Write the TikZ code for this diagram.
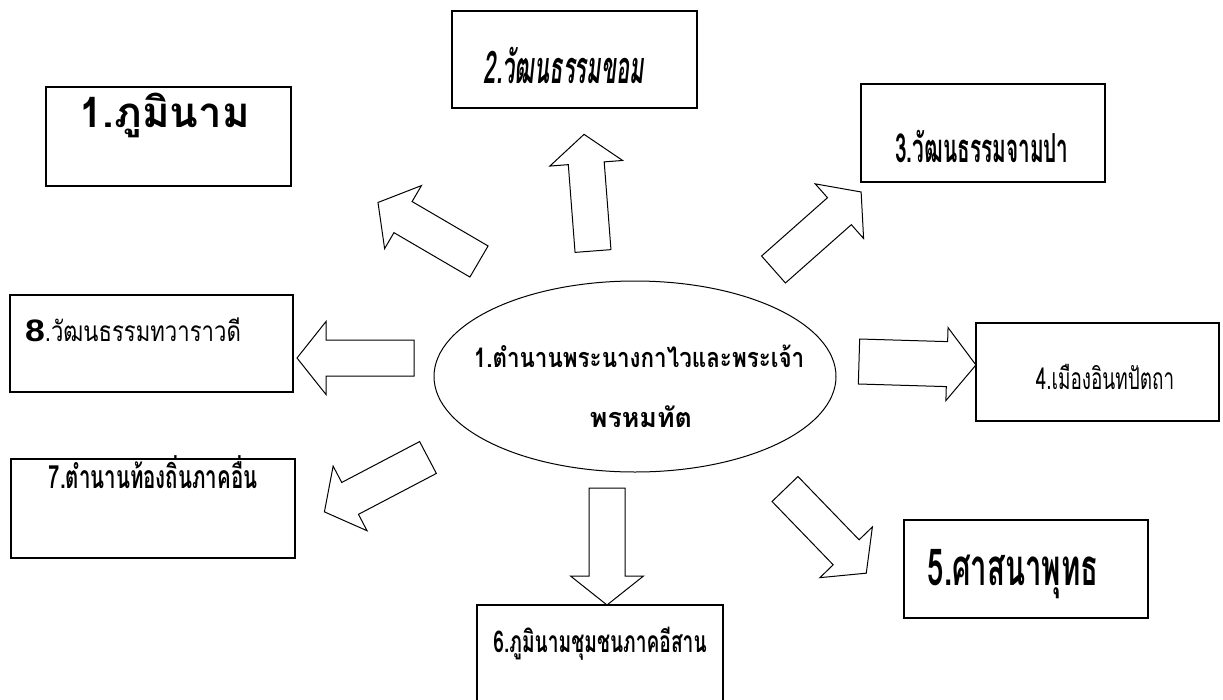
\documentclass[tikz,border=0pt]{standalone}
\usepackage{fontspec}
\usepackage{graphicx}
\usetikzlibrary{shapes.geometric}
\newfontfamily\thaifont[Script=Thai]{Loma}
\newfontfamily\latinbold{Liberation Sans}
\newcommand\thsize[1]{\fontsize{#1}{#1}\selectfont}
\newcommand\sq[2]{\scalebox{#1}[1]{#2}}

\tikzset{
  box/.style={draw, line width=1.6pt, inner sep=0pt},
  ttl/.style={anchor=base, inner sep=0pt},
  blockarr/.pic={
    \draw[line width=1pt, fill=white] (0,-#1) -- (88,-#1) -- (88,-36.5) -- (117,0)
      -- (88,36.5) -- (88,#1) -- (0,#1) -- cycle;
  }
}

\begin{document}
\begin{tikzpicture}[x=1pt,y=1pt]
  \useasboundingbox (0,0) rectangle (1223,-699);

  % centre
  \node[draw, ellipse, line width=1pt, minimum width=402, minimum height=191, inner sep=0pt] (core) at (635,-376.5) {};
  \node[ttl, font={\thaifont\bfseries\thsize{27}}] (coreA) at (639,-367) {\sq{0.83}{1.ตำนานพระนางกาไวและพระเจ้า}};
  \node[ttl, font={\thaifont\bfseries\thsize{27}}] (coreB) at (641,-427) {\sq{0.99}{พรหมทัต}};

  % boxes
  \node[box, minimum width=245, minimum height=99] (b1) at (168.5,-136.5) {};
  \node[box, minimum width=245, minimum height=97] (b2) at (574.5,-59.5) {};
  \node[box, minimum width=244, minimum height=98] (b3) at (983,-133) {};
  \node[box, minimum width=243, minimum height=98] (b4) at (1097.5,-372) {};
  \node[box, minimum width=244, minimum height=98] (b5) at (1026,-569) {};
  \node[box, minimum width=246, minimum height=100] (b6) at (600,-655) {};
  \node[box, minimum width=284, minimum height=99] (b7) at (153,-508.5) {};
  \node[box, minimum width=283, minimum height=97] (b8) at (151.5,-343.5) {};

  % titles
  \node[ttl, font={\thaifont\bfseries\thsize{42}}] (t1) at (164.5,-127) {1.ภูมินาม};
  \node[ttl, font={\thaifont\bfseries\itshape\thsize{45}}] (t2) at (564,-83) {\sq{0.49}{2.วัฒนธรรมขอม}};
  \node[ttl, font={\thaifont\bfseries\thsize{40}}] (t3) at (982,-162) {\sq{0.52}{3.วัฒนธรรมจามปา}};
  \node[ttl, font={\thaifont\thsize{30}}] (t4) at (1105,-389) {\sq{0.63}{4.เมืองอินทปัตถา}};
  \node[ttl, font={\thaifont\bfseries\thsize{51}}] (t5) at (1013,-585) {\sq{0.575}{5.ศาสนาพุทธ}};
  \node[ttl, font={\thaifont\bfseries\thsize{30}}] (t6) at (600,-652) {\sq{0.64}{6.ภูมินามชุมชนภาคอีสาน}};
  \node[ttl, font={\thaifont\bfseries\thsize{32}}] (t7) at (153,-488) {\sq{0.64}{7.ตำนานท้องถิ่นภาคอื่น}};
  \node[ttl] (t8) at (133,-341) {{\latinbold\bfseries\thsize{31}\sq{1.15}{8}}{\thaifont\thsize{28}\sq{0.79}{.วัฒนธรรมทวาราวดี}}};

  % block arrows
  \pic[rotate=149.7] (arA) at (479,-261.5) {blockarr=18};
  \pic[rotate=94.4]  (arB) at (593,-251) {blockarr=18};
  \pic[rotate=41.5]  (arC) at (773.5,-269.5) {blockarr=18};
  \pic[rotate=-1.7]  (arD) at (859,-361.5) {blockarr=22.5};
  \pic[rotate=-46]   (arE) at (785,-489) {blockarr=18};
  \pic[rotate=-90]   (arF) at (607,-488) {blockarr=18};
  \pic[rotate=207.7] (arG) at (428,-457.5) {blockarr=18};
  \pic[rotate=180]   (arH) at (414,-358) {blockarr=18};
\end{tikzpicture}
\end{document}
